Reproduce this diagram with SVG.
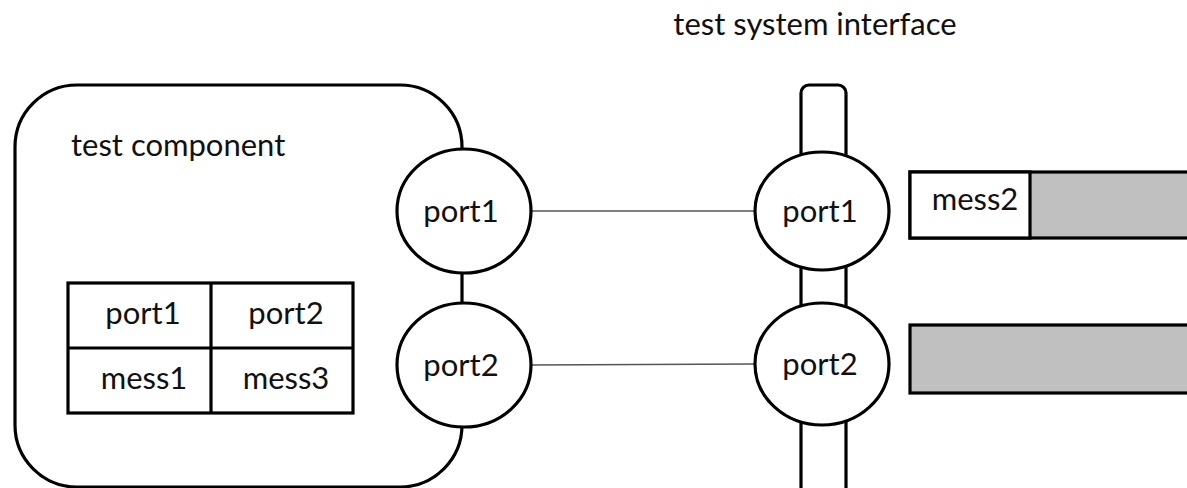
<svg xmlns="http://www.w3.org/2000/svg" width="1187" height="488" viewBox="0 0 1187 488">
<style>
.s{fill:none;stroke:#000;stroke-width:3.2}
.w{fill:#fff;stroke:#000;stroke-width:3.2}
.g{fill:#c0c0c0;stroke:#000;stroke-width:3.2}
.c{stroke:#555;stroke-width:1.5;fill:none}
text{font-family:Lato,"Liberation Sans",sans-serif;font-size:31px;fill:#111}
.m{text-anchor:middle}
</style>
<rect width="1187" height="488" fill="#fff"/>
<g id="test-component">
<rect class="s" x="15" y="85" width="447" height="402" rx="62" ry="62"/>
<text x="71" y="156">test component</text>
</g>
<g id="table">
<rect class="w" x="68" y="283" width="285" height="130"/>
<line class="s" x1="211" y1="283" x2="211" y2="413"/>
<line class="s" x1="68" y1="348" x2="353" y2="348"/>
<text class="m" x="143" y="324">port1</text>
<text class="m" x="286" y="324">port2</text>
<text class="m" x="144" y="389">mess1</text>
<text class="m" x="286" y="389">mess3</text>
</g>
<g id="tsi">
<rect class="s" x="801" y="85" width="45" height="420" rx="8" ry="8"/>
<text class="m" x="815" y="35">test system interface</text>
</g>
<g id="connectors">
<line class="c" x1="531" y1="211" x2="755" y2="211"/>
<line class="c" x1="531" y1="365" x2="755" y2="364"/>
</g>
<g id="tc-port1">
<ellipse class="w" cx="464" cy="211" rx="67" ry="62"/>
<text class="m" x="461" y="222">port1</text>
</g>
<g id="tc-port2">
<ellipse class="w" cx="464" cy="365" rx="67" ry="62"/>
<text class="m" x="461" y="376">port2</text>
</g>
<g id="tsi-port1">
<ellipse class="w" cx="822" cy="211" rx="67" ry="59"/>
<text class="m" x="820" y="222">port1</text>
</g>
<g id="tsi-port2">
<ellipse class="w" cx="822" cy="364" rx="67" ry="61"/>
<text class="m" x="820" y="375">port2</text>
</g>
<g id="queue1">
<rect class="g" x="910" y="172" width="290" height="66"/>
<rect class="w" x="910" y="172" width="120" height="66"/>
<text class="m" x="975" y="210">mess2</text>
</g>
<g id="queue2">
<rect class="g" x="910" y="325" width="290" height="68"/>
</g>
</svg>
